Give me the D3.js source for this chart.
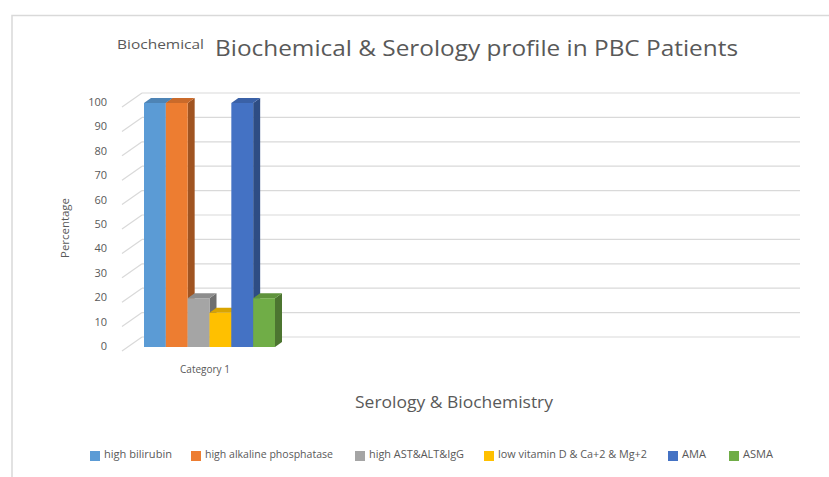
<!DOCTYPE html>
<html>
<head>
<meta charset="utf-8">
<script src="https://cdn.jsdelivr.net/npm/d3@7"></script>
<style>
  body { margin: 0; background: #fff; }
  text { font-family: "Open Sans", "Noto Sans", sans-serif; fill: #595959; }
</style>
</head>
<body>
<svg width="829" height="477"></svg>
<script>
const categories = ['Category 1'];
const seriesNames = ['high bilirubin', 'high alkaline phosphatase', 'high AST&ALT&IgG',
  'low vitamin D & Ca+2 & Mg+2', 'AMA', 'ASMA'];
const seriesValues = [100, 100, 20, 14, 100, 20];
const yTicks = [0, 10, 20, 30, 40, 50, 60, 70, 80, 90, 100];
const colors = ['#5b9bd5', '#ed7d31', '#a5a5a5', '#ffc000', '#4472c4', '#70ad47'];

const svg = d3.select('svg');

// chart frame (top + left edges only)
svg.append('path')
  .attr('d', 'M12,477 V15.5 H829')
  .attr('fill', 'none').attr('stroke', '#d9d9d9').attr('stroke-width', 1.5);

// 3d offsets
const wallDx = 20, wallDy = -14;
const barDx = 7, barDy = -5;

const yFront = d3.scaleLinear().domain([0, 100]).range([351, 107]);
const yBar = d3.scaleLinear().domain([0, 100]).range([347, 103]);

const xCat = d3.scaleBand().domain(categories).range([144, 275]);
const xSer = d3.scaleBand().domain(seriesNames).range([0, xCat.bandwidth()]);

// gridlines: side wall diagonal + back wall
const grid = svg.append('g');
yTicks.forEach(t => {
  const y0 = yFront(t), y1 = yFront(t) + wallDy;
  grid.append('line')
    .attr('x1', 122).attr('y1', y0).attr('x2', 122 + wallDx).attr('y2', y1)
    .attr('stroke', '#d9d9d9').attr('stroke-width', 1.2);
  grid.append('line')
    .attr('x1', 122 + wallDx).attr('y1', y1).attr('x2', 800).attr('y2', y1)
    .attr('stroke', '#d9d9d9').attr('stroke-width', 1.2);
});

// tick labels
svg.append('g').selectAll('text')
  .data(yTicks).join('text')
  .attr('x', 107).attr('y', d => yFront(d) - 4)
  .attr('text-anchor', 'end').attr('dominant-baseline', 'middle')
  .attr('font-size', 11).text(d => d);

// bars
const shade = (c, k) => d3.color(c).darker(k).formatHex();
const bars = svg.append('g');
categories.forEach(cat => {
  seriesNames.forEach((s, i) => {
    const v = seriesValues[i];
    const x0 = xCat(cat) + xSer(s), w = xSer.bandwidth();
    const yt = yBar(v), yb = yBar(0);
    const g = bars.append('g');
    // side face
    g.append('path')
      .attr('d', `M${x0 + w},${yb} L${x0 + w + barDx},${yb + barDy} L${x0 + w + barDx},${yt + barDy} L${x0 + w},${yt} Z`)
      .attr('fill', shade(colors[i], 1.1));
    // top face
    g.append('path')
      .attr('d', `M${x0},${yt} L${x0 + barDx},${yt + barDy} L${x0 + w + barDx},${yt + barDy} L${x0 + w},${yt} Z`)
      .attr('fill', shade(colors[i], 0.45));
    // front face
    g.append('rect')
      .attr('x', x0).attr('y', yt).attr('width', w).attr('height', yb - yt)
      .attr('fill', colors[i]);
  });
});

// category label
svg.append('text')
  .attr('x', 205).attr('y', 370)
  .attr('text-anchor', 'middle').attr('dominant-baseline', 'middle')
  .attr('font-size', 10).text(categories[0]);

// titles
svg.append('text')
  .attr('x', 117).attr('y', 49)
  .attr('font-size', 13).attr('textLength', 87).attr('lengthAdjust', 'spacingAndGlyphs')
  .text('Biochemical');
svg.append('text')
  .attr('x', 215).attr('y', 56)
  .attr('font-size', 22).attr('textLength', 523).attr('lengthAdjust', 'spacingAndGlyphs')
  .text('Biochemical & Serology profile in PBC Patients');

svg.append('text')
  .attr('transform', 'translate(66,228) rotate(-90)')
  .attr('text-anchor', 'middle').attr('dominant-baseline', 'middle')
  .attr('font-size', 11).attr('textLength', 60).attr('lengthAdjust', 'spacingAndGlyphs')
  .text('Percentage');

svg.append('text')
  .attr('x', 355).attr('y', 408)
  .attr('font-size', 16).attr('textLength', 198).attr('lengthAdjust', 'spacingAndGlyphs')
  .text('Serology & Biochemistry');

// legend
const legendX = [90, 191, 355, 484, 668, 729];
const legendW = [68, 128, 95, 149, 24, 30];
const legend = svg.append('g');
seriesNames.forEach((s, i) => {
  legend.append('rect')
    .attr('x', legendX[i]).attr('y', 451).attr('width', 10).attr('height', 10)
    .attr('fill', colors[i]);
  legend.append('text')
    .attr('x', legendX[i] + 14).attr('y', 455)
    .attr('dominant-baseline', 'middle')
    .attr('font-size', 10).attr('textLength', legendW[i]).attr('lengthAdjust', 'spacingAndGlyphs')
    .text(s);
});
</script>
</body>
</html>
